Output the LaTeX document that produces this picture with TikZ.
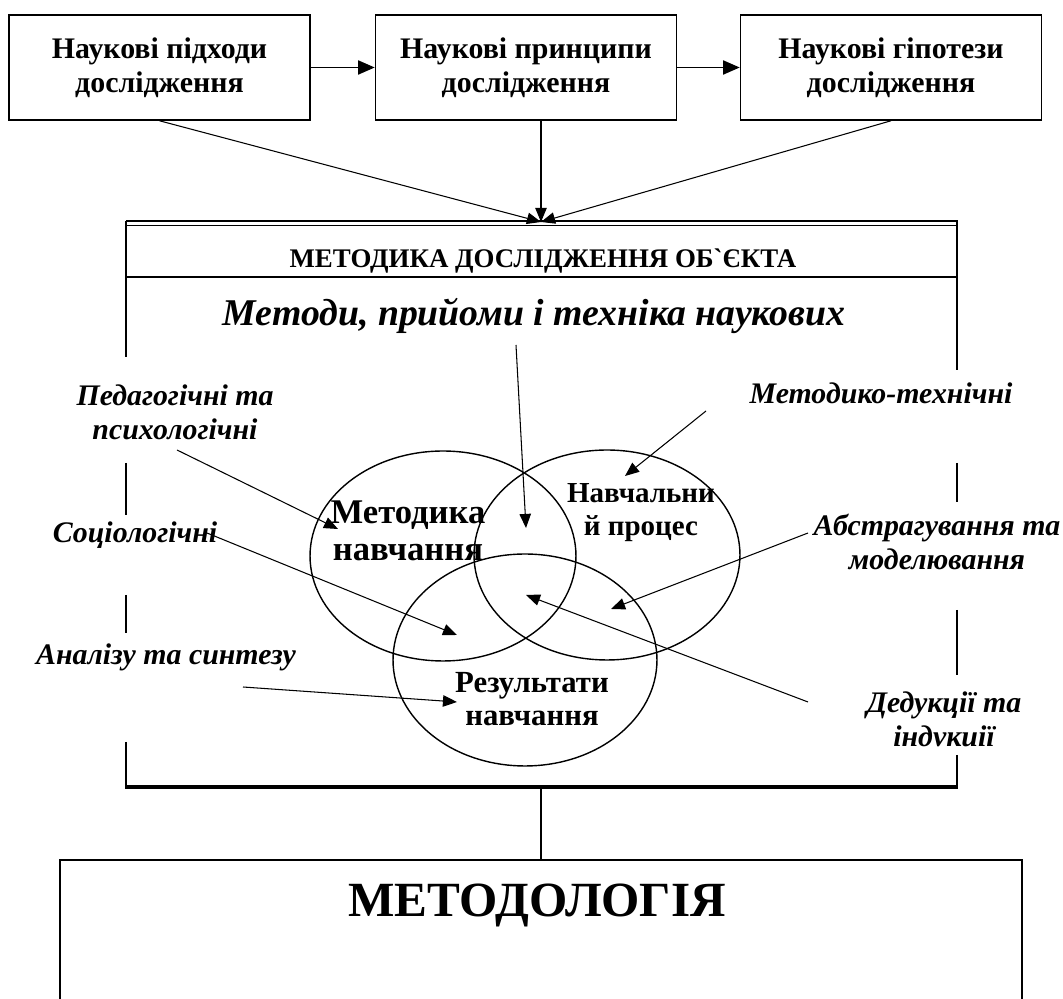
\documentclass[tikz,border=0pt]{standalone}
\usepackage{fontspec}
\setmainfont{Liberation Serif}
\usetikzlibrary{arrows.meta,shapes.geometric}

\begin{document}
\begin{tikzpicture}[x=0.02cm,y=-0.02cm,
    >={Triangle[length=8pt,width=6.5pt]},
    topbox/.style={draw,line width=0.9pt,minimum width=6.02cm,minimum height=2.1cm,
        align=center,font=\fontsize{17}{19.5}\selectfont\bfseries},
    venn/.style={draw,ellipse,line width=0.8pt,minimum width=5.32cm,minimum height=4.2cm},
    venntext/.style={align=center,font=\fontsize{16.5}{18.8}\selectfont\bfseries},
    method/.style={align=center,font=\fontsize{17}{19.3}\selectfont\bfseries\itshape},
    frameline/.style={line width=1.7pt},
    pointer/.style={->,line width=0.6pt}]

    \useasboundingbox (0,0) rectangle (1063,999);
    \clip (0,0) rectangle (1063,999);

% Top row of boxes

    \node[topbox] (pidkhody) at (159.5,67.5) {Наукові підходи\\дослідження};
    \node[topbox] (pryntsypy) at (526,67.5) {Наукові принципи\\дослідження};
    \node[topbox] (hipotezy) at (891,67.5) {Наукові гіпотези\\дослідження};

    \draw[->,line width=1.1pt,>={Triangle[length=9.5pt,width=8pt]}] (pidkhody) -- (pryntsypy);
    \draw[->,line width=1.1pt,>={Triangle[length=9.5pt,width=8pt]}] (pryntsypy) -- (hipotezy);

    \coordinate (vkhid) at (541,222);
    \draw[pointer] (pidkhody.south) -- (vkhid);
    \draw[pointer] (pryntsypy.south -| vkhid) -- (vkhid);
    \draw[pointer] (hipotezy.south) -- (vkhid);

% Frame of the method block

    \draw[line width=1.6pt] (126,221) -- (958,221);
    \draw[line width=0.6pt] (126,225.5) -- (958,225.5);
    \draw[line width=1.1pt] (126,277) -- (958,277);

    \draw[frameline] (126,221) -- (126,357);
    \draw[frameline] (126,463) -- (126,515);
    \draw[frameline] (126,595) -- (126,633);
    \draw[frameline] (126,742) -- (126,787);

    \draw[frameline] (957,221) -- (957,370);
    \draw[frameline] (957,463) -- (957,502);
    \draw[frameline] (957,610) -- (957,675);
    \draw[frameline] (957,755) -- (957,787);

    \draw[line width=2.3pt] (125,787) -- (958,787);

    \node[anchor=base,font=\fontsize{15.3}{18}\selectfont\bfseries] (zaholovok) at (543,268)
        {МЕТОДИКА ДОСЛІДЖЕННЯ ОБ\textasciigrave ЄКТА};
    \node[anchor=base,font=\fontsize{21.5}{25}\selectfont\bfseries\itshape] (metody) at (534,326)
        {Методи, прийоми і техніка наукових};

% Circles

    \node[venn] (metodyka) at (443,556) {};
    \node[venn] (protses) at (607,555) {};
    \node[venn,minimum width=5.28cm,minimum height=4.24cm] (rezultaty) at (525,660) {};

    \node[venntext,font=\fontsize{19.7}{21}\selectfont\bfseries] (metodykaText) at (408,531) {Методика\\навчання};
    \node[venntext] (protsesText) at (641,513) {Навчальни\\й процес};
    \node[venntext,font=\fontsize{17.5}{19}\selectfont\bfseries] (rezultatyText) at (532,699) {Результати\\навчання};

% Methods round the circles

    \node[method] (pedahohichni) at (175,412) {Педагогічні та\\психологічні};
    \node[method] (tekhnichni) at (881,393) {Методико-технічні};
    \node[method] (sotsiolohichni) at (135,535) {Соціологічні};
    \node[method] (abstrahuvannia) at (937,542) {Абстрагування та\\моделювання};
    \node[method] (analizu) at (166,657) {Аналізу та синтезу};
    \node[method] (dedukcii) at (944,719) {Дедукції та\\індvкиії};

    \coordinate (metodyTail) at (516,345);   \coordinate (metodyTip) at (526,528);
    \coordinate (pedTail) at (177,450);      \coordinate (pedTip) at (338,529);
    \coordinate (tekhTail) at (706,411);     \coordinate (tekhTip) at (625,476);
    \coordinate (sotsTail) at (207,533);     \coordinate (sotsTip) at (457,635);
    \coordinate (analTail) at (243,687);     \coordinate (analTip) at (457,702);
    \coordinate (abstrTail) at (808,533);    \coordinate (abstrTip) at (611,609);
    \coordinate (dedTail) at (808,702);      \coordinate (dedTip) at (526,595);

    \draw[pointer] (metodyTail) -- (metodyTip);
    \draw[pointer] (pedTail) -- (pedTip);
    \draw[pointer] (tekhTail) -- (tekhTip);
    \draw[pointer] (sotsTail) -- (sotsTip);
    \draw[pointer] (analTail) -- (analTip);
    \draw[pointer] (abstrTail) -- (abstrTip);
    \draw[pointer] (dedTail) -- (dedTip);

% Methodology box

    \coordinate (vykhid) at (541,789);
    \node[draw,line width=1.1pt,anchor=north,minimum width=19.24cm,minimum height=4cm] (metodolohiya) at (541,859) {};
    \draw[line width=0.6pt] (vykhid) -- (metodolohiya.north);

    \node[anchor=base,font=\fontsize{28}{32}\selectfont\bfseries] (nazva) at (537,917) {МЕТОДОЛОГІЯ};

\end{tikzpicture}
\end{document}
